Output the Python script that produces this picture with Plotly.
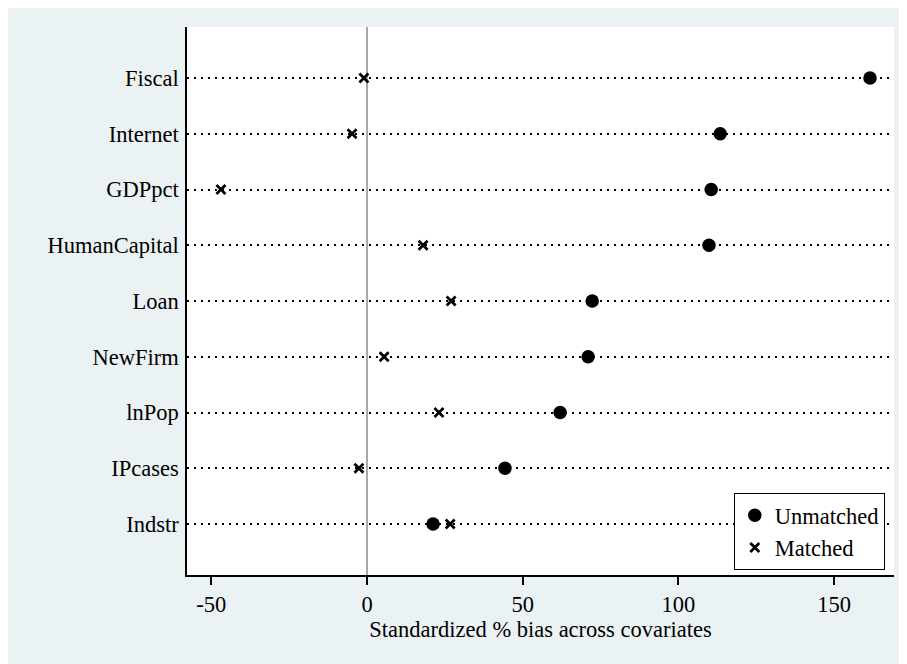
import plotly.graph_objects as go

categories = ["Fiscal", "Internet", "GDPpct", "HumanCapital", "Loan",
              "NewFirm", "lnPop", "IPcases", "Indstr"]
unmatched = [161.5, 113.4, 110.5, 109.8, 72.3, 71.0, 62.0, 44.3, 21.2]
matched = [-1.0, -4.8, -46.9, 18.0, 27.0, 5.5, 23.1, -2.6, 26.7]
x_ticks = [-50, 0, 50, 100, 150]
x_title = "Standardized % bias across covariates"

W, H = 907, 664
# figure coordinates (page adds an 8px body margin)
L, R, T, B = 179, 886, 19, 567
BG = "#EAF2F3"
FONT = "Liberation Serif, Times New Roman, serif"
FS = 22.5

fig = go.Figure()
fig.add_trace(go.Scatter(
    x=unmatched, y=categories, mode="markers", name="Unmatched",
    marker=dict(symbol="circle", size=13.5, color="black"),
))
fig.add_trace(go.Scatter(
    x=matched, y=categories, mode="markers", name="Matched",
    marker=dict(symbol="x-thin", size=9, color="black",
                line=dict(color="black", width=2.7)),
))

n = len(categories)
pad = 0.915
fig.update_layout(
    width=W, height=H,
    margin=dict(l=L, r=W - R, t=T, b=H - B, pad=0),
    paper_bgcolor=BG,
    plot_bgcolor="white",
    font=dict(family=FONT, size=FS, color="black"),
    showlegend=True,
    legend=dict(
        x=0.987, y=0.009, xanchor="right", yanchor="bottom",
        bgcolor="white", bordercolor="black", borderwidth=1,
        font=dict(family=FONT, size=FS, color="black"),
        itemclick=False,
    ),
)
fig.update_xaxes(
    range=[-57.8, 169.2],
    tickvals=x_ticks, ticktext=[str(v) for v in x_ticks],
    ticks="outside", ticklen=8, tickwidth=1.5, tickcolor="black",
    showline=True, linecolor="black", linewidth=1.5,
    showgrid=False,
    zeroline=True, zerolinecolor="#a8a8a8", zerolinewidth=2,
    tickfont=dict(family=FONT, size=FS, color="black"),
    title=dict(text=x_title, font=dict(family=FONT, size=FS, color="black"),
               standoff=0),
)
fig.update_yaxes(
    type="category", categoryorder="array", categoryarray=categories,
    range=[n - 1 + pad, -pad],
    ticks="", ticklabelstandoff=2,
    showline=True, linecolor="black", linewidth=1.5,
    showgrid=True, gridcolor="black", gridwidth=2, griddash="2px,5px",
    zeroline=False,
    tickfont=dict(family=FONT, size=FS, color="black"),
)

fig.write_html("out.html")
